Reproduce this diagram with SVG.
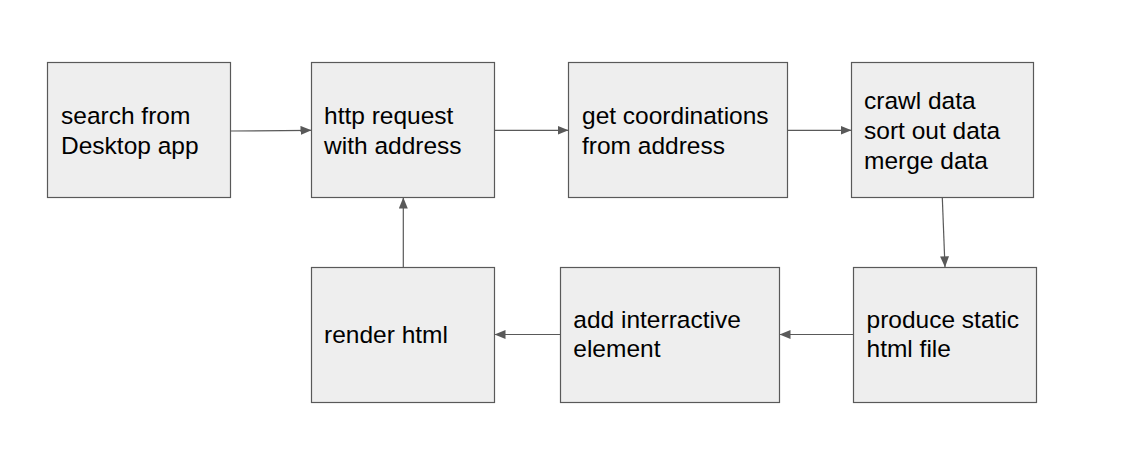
<svg xmlns="http://www.w3.org/2000/svg" width="1123" height="464" viewBox="0 0 1123 464">
<style>
.box{fill:#eeeeee;stroke:#595959;stroke-width:1.2}
.lbl{font-family:"Liberation Sans",Arial,sans-serif;font-size:24.5px;fill:#000}
.conn{stroke:#595959;stroke-width:1.2;fill:none}
</style>
<defs>
<marker id="ah" markerUnits="userSpaceOnUse" markerWidth="12" markerHeight="10" refX="11" refY="4.5" orient="auto">
<path d="M0,0 L11,4.5 L0,9 z" fill="#595959"/>
</marker>
</defs>
<rect width="1123" height="464" fill="#ffffff"/>
<g id="n1"><rect class="box" x="47.5" y="62.5" width="183" height="135"/>
<text class="lbl" x="61" y="124">search from</text><text class="lbl" x="61" y="153.7">Desktop app</text></g>
<g id="n2"><rect class="box" x="311.5" y="62.5" width="183" height="135"/>
<text class="lbl" x="324" y="124">http request</text><text class="lbl" x="324" y="153.7">with address</text></g>
<g id="n3"><rect class="box" x="568.5" y="62.5" width="219" height="135"/>
<text class="lbl" x="582" y="124">get coordinations</text><text class="lbl" x="582" y="153.7">from address</text></g>
<g id="n4"><rect class="box" x="851.5" y="62.5" width="182" height="135"/>
<text class="lbl" x="864" y="109.3">crawl data</text><text class="lbl" x="864" y="139">sort out data</text><text class="lbl" x="864" y="168.7">merge data</text></g>
<g id="n5"><rect class="box" x="853.5" y="267.5" width="183" height="135"/>
<text class="lbl" x="866.5" y="327.7">produce static</text><text class="lbl" x="866.5" y="357.4">html file</text></g>
<g id="n6"><rect class="box" x="560.5" y="267.5" width="219" height="135"/>
<text class="lbl" x="573.3" y="327.7">add interractive</text><text class="lbl" x="573.3" y="357.4">element</text></g>
<g id="n7"><rect class="box" x="311.5" y="267.5" width="183" height="135"/>
<text class="lbl" x="324" y="342.7">render html</text></g>
<g id="connectors">
<line class="conn" x1="230.5" y1="131" x2="311.5" y2="130.3" marker-end="url(#ah)"/>
<line class="conn" x1="494.5" y1="130.3" x2="568.5" y2="130.3" marker-end="url(#ah)"/>
<line class="conn" x1="787.5" y1="130.3" x2="851.5" y2="130.3" marker-end="url(#ah)"/>
<line class="conn" x1="942.3" y1="197.5" x2="945" y2="267.3" marker-end="url(#ah)"/>
<line class="conn" x1="853.5" y1="334.5" x2="779.5" y2="334.5" marker-end="url(#ah)"/>
<line class="conn" x1="560.5" y1="334.5" x2="494.5" y2="334.5" marker-end="url(#ah)"/>
<line class="conn" x1="403.3" y1="267.5" x2="403.3" y2="197.5" marker-end="url(#ah)"/>
</g>
</svg>
